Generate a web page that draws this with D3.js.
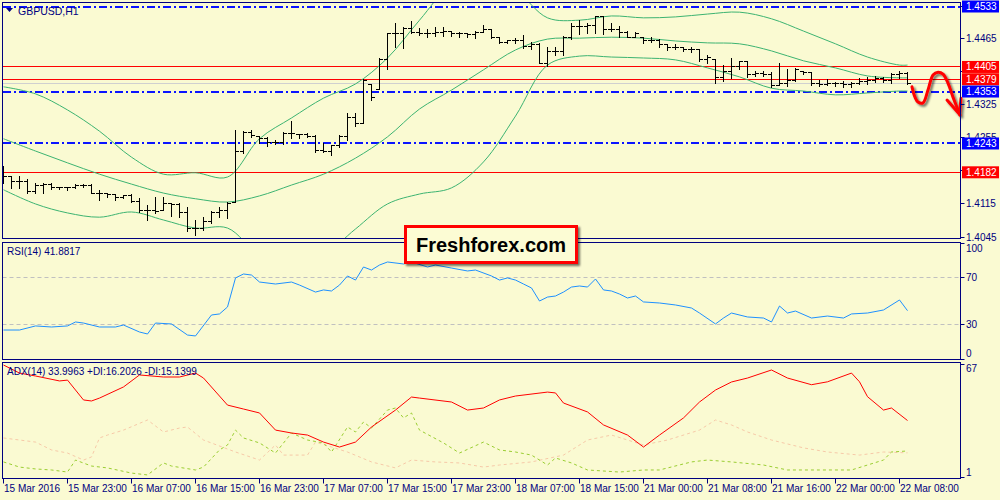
<!DOCTYPE html>
<html><head><meta charset="utf-8">
<script src="https://cdn.jsdelivr.net/npm/d3@7"></script>
<style>
html,body{margin:0;padding:0;background:#fafad2;}
svg{display:block;}
text{font-family:"Liberation Sans",Arial,sans-serif;}
</style></head><body>
<svg id="c" width="1000" height="500"></svg>
<script>
// ---------- DATA ----------
const symbolLabel = "GBPUSD,H1";
const rsiLabel = "RSI(14) 41.8817";
const adxLabel = "ADX(14) 33.9963 +DI:16.2026 -DI:15.1399";
const logoText = "Freshforex.com";

const openP = [1.4187,1.4174,1.4162,1.4162,1.4142,1.4155,1.4157,1.4149,1.4149,1.4149,
1.4155,1.4155,1.4138,1.4138,1.4134,1.4128,1.4132,1.4121,1.4102,1.4102,
1.4102,1.4117,1.4113,1.4096,1.4062,1.4062,1.4077,1.4096,1.4102,1.4119,
1.4225,1.4267,1.4257,1.4253,1.4246,1.4246,1.4265,1.4263,1.4261,1.4257,
1.4229,1.4227,1.4238,1.4257,1.4299,1.4286,1.4367,1.4358,1.4420,1.4475,
1.4475,1.4487,1.4479,1.4475,1.4475,1.4479,1.4481,1.4475,1.4475,1.4473,
1.4479,1.4485,1.4468,1.4456,1.4460,1.4460,1.4449,1.4452,1.4413,1.4437,
1.4437,1.4468,1.4490,1.4490,1.4492,1.4511,1.4485,1.4485,1.4479,1.4468,
1.4468,1.4462,1.4462,1.4452,1.4447,1.4447,1.4443,1.4443,1.4420,1.4420,
1.4382,1.4396,1.4405,1.4416,1.4390,1.4392,1.4390,1.4365,1.4371,1.4377,
1.4396,1.4394,1.4369,1.4367,1.4371,1.4369,1.4367,1.4371,1.4375,1.4377,
1.4380,1.4377,1.4388,1.4392];
const highP = [1.4195,1.4174,1.4174,1.4168,1.4159,1.4159,1.4159,1.4151,1.4151,1.4157,
1.4157,1.4157,1.4145,1.4138,1.4134,1.4134,1.4136,1.4128,1.4113,1.4130,
1.4130,1.4117,1.4117,1.4109,1.4081,1.4087,1.4100,1.4109,1.4119,1.4272,
1.4269,1.4272,1.4257,1.4257,1.4250,1.4267,1.4291,1.4263,1.4265,1.4261,
1.4244,1.4240,1.4261,1.4308,1.4308,1.4380,1.4367,1.4424,1.4477,1.4498,
1.4490,1.4502,1.4487,1.4485,1.4490,1.4490,1.4481,1.4479,1.4477,1.4481,
1.4494,1.4485,1.4468,1.4462,1.4466,1.4473,1.4458,1.4456,1.4447,1.4447,
1.4471,1.4498,1.4504,1.4498,1.4513,1.4511,1.4498,1.4492,1.4481,1.4479,
1.4468,1.4468,1.4464,1.4454,1.4454,1.4447,1.4447,1.4443,1.4430,1.4420,
1.4409,1.4424,1.4418,1.4416,1.4396,1.4396,1.4394,1.4413,1.4401,1.4403,
1.4396,1.4394,1.4377,1.4380,1.4373,1.4375,1.4373,1.4382,1.4384,1.4386,
1.4384,1.4392,1.4396,1.4394];
const lowP = [1.4159,1.4149,1.4149,1.4138,1.4138,1.4138,1.4147,1.4147,1.4145,1.4149,
1.4151,1.4138,1.4123,1.4130,1.4123,1.4128,1.4119,1.4098,1.4081,1.4096,
1.4102,1.4090,1.4087,1.4058,1.4049,1.4060,1.4075,1.4087,1.4085,1.4119,
1.4223,1.4257,1.4244,1.4238,1.4242,1.4242,1.4255,1.4255,1.4257,1.4225,
1.4225,1.4219,1.4236,1.4250,1.4280,1.4286,1.4335,1.4358,1.4401,1.4447,
1.4445,1.4477,1.4473,1.4468,1.4471,1.4471,1.4471,1.4468,1.4468,1.4466,
1.4479,1.4466,1.4456,1.4456,1.4456,1.4445,1.4443,1.4413,1.4407,1.4430,
1.4430,1.4464,1.4475,1.4477,1.4477,1.4475,1.4481,1.4468,1.4468,1.4468,
1.4456,1.4458,1.4447,1.4441,1.4443,1.4439,1.4437,1.4418,1.4413,1.4371,
1.4375,1.4382,1.4401,1.4384,1.4386,1.4386,1.4363,1.4367,1.4365,1.4375,
1.4390,1.4367,1.4365,1.4367,1.4365,1.4363,1.4363,1.4369,1.4369,1.4373,
1.4373,1.4371,1.4382,1.4369];
const closeP = [1.4174,1.4162,1.4162,1.4142,1.4155,1.4157,1.4149,1.4149,1.4149,1.4155,
1.4155,1.4138,1.4138,1.4134,1.4128,1.4132,1.4121,1.4102,1.4102,1.4100,
1.4117,1.4113,1.4096,1.4062,1.4062,1.4077,1.4096,1.4102,1.4117,1.4225,
1.4267,1.4259,1.4253,1.4246,1.4246,1.4265,1.4265,1.4261,1.4257,1.4229,
1.4227,1.4238,1.4257,1.4299,1.4286,1.4377,1.4341,1.4420,1.4475,1.4475,
1.4487,1.4479,1.4475,1.4475,1.4479,1.4481,1.4475,1.4475,1.4473,1.4479,
1.4485,1.4468,1.4456,1.4460,1.4460,1.4449,1.4452,1.4413,1.4437,1.4437,
1.4468,1.4490,1.4490,1.4492,1.4511,1.4485,1.4485,1.4479,1.4468,1.4475,
1.4462,1.4462,1.4452,1.4447,1.4447,1.4443,1.4443,1.4420,1.4426,1.4382,
1.4396,1.4405,1.4416,1.4390,1.4392,1.4390,1.4365,1.4371,1.4377,1.4399,
1.4394,1.4369,1.4367,1.4371,1.4369,1.4367,1.4371,1.4375,1.4377,1.4380,
1.4377,1.4388,1.4392,1.4369];

// Bollinger bands (sampled at bar indices)
const bandIdx = [0,4,8,12,16,20,24,28,32,36,40,44,48,52,56,60,64,68,72,76,80,84,88,92,96,100,104,108,112,113];
const bbUpper  = [1.4363,1.4348,1.4314,1.4269,1.4214,1.4178,1.4181,1.4172,1.4253,1.4297,1.4339,1.4369,1.4424,1.4504,1.4579,1.4600,1.4568,1.4509,1.4504,1.4513,1.4509,1.4511,1.4517,1.4521,1.4507,1.4481,1.4454,1.4426,1.4409,1.4409];
const bbMiddle = [1.4253,1.4227,1.4202,1.4178,1.4157,1.4138,1.4126,1.4119,1.4132,1.4155,1.4178,1.4212,1.4257,1.4316,1.4356,1.4399,1.4441,1.4464,1.4466,1.4468,1.4466,1.4460,1.4456,1.4454,1.4439,1.4418,1.4403,1.4386,1.4382,1.4382];
const bbLower  = [1.4145,1.4115,1.4096,1.4087,1.4098,1.4081,1.4064,1.4064,1.4007,1.3986,1.4007,1.4062,1.4115,1.4136,1.4149,1.4204,1.4301,1.4409,1.4428,1.4426,1.4424,1.4420,1.4403,1.4384,1.4360,1.4354,1.4346,1.4350,1.4354,1.4354];

// RSI(14)
const rsiIdx = [0,2,4,6,8,9,10,12,14,15,17,18,19,21,23,24,26,27,28,29,30,31,32,34,36,37,39,40,41,42,43,44,45,46,47,48,50,51,53,54,56,58,59,61,62,63,64,65,66,67,68,69,70,71,72,73,74,75,76,77,78,79,80,82,84,86,87,89,90,91,93,95,96,97,98,99,101,103,105,106,108,110,112,113];
const rsiVals = [25.3,25.3,28.8,27.9,28.8,32.2,31.3,27.9,27.9,29.6,23.6,21.9,31.3,30.5,21.0,20.2,38.2,39.1,45.1,70.0,73.4,72.5,66.5,64.8,66.5,63.9,57.9,59.7,58.8,63.9,71.7,68.2,79.4,76.8,81.1,83.7,82.0,83.7,79.4,81.1,78.5,76.0,76.8,71.7,68.2,70.0,68.2,64.8,61.4,50.2,53.6,54.5,57.9,62.2,63.1,62.2,69.1,59.7,58.8,56.2,52.8,54.5,49.4,48.5,46.8,44.2,39.9,30.5,35.6,39.9,36.5,35.6,32.2,45.9,39.9,41.6,35.6,37.3,35.6,39.1,39.9,42.5,51.1,41.9];

// ADX(14)
const adxIdx = [0,2,4,7,8,10,11,12,15,17,20,22,24,25,28,30,32,34,36,38,40,42,44,46,49,51,52,56,58,60,62,64,68,69,70,73,75,78,80,82,85,87,89,91,93,96,98,101,103,106,107,108,110,111,113];
const adxVals = [66.4,61.7,60.0,57.1,57.6,46.0,45.4,47.1,53.6,60.6,59.4,59.4,61.7,58.8,43.0,40.7,38.4,28.4,26.7,25.5,21.4,18.5,21.4,30.2,40.1,47.7,47.1,44.8,40.1,41.3,46.0,48.3,50.6,50.1,44.2,39.0,31.4,25.5,18.5,25.5,35.5,44.8,51.8,56.5,58.8,63.5,58.8,54.9,56.6,61.7,56.6,47.9,40.1,41.3,34.0];
const plusIdx = [0,2,4,6,8,9,11,13,16,18,20,21,24,25,27,28,29,30,32,34,36,38,40,41,43,44,45,46,48,49,50,51,52,55,57,60,62,64,66,68,69,71,73,77,80,82,86,88,91,95,98,102,106,108,110,111,113];
const plusDI = [9.8,6.8,5.7,5.1,3.9,10.9,7.4,6.3,3.3,2.2,9.2,7.4,5.1,6.8,16.8,19.7,28.4,23.8,20.9,15.0,26.7,22.6,20.9,15.6,30.2,27.3,33.1,29.6,40.1,41.3,35.5,38.4,28.4,20.9,15.0,21.4,16.8,15.6,13.8,8.0,12.1,9.2,5.1,3.9,5.1,5.1,9.8,10.9,9.8,8.0,5.1,5.1,5.1,8.0,10.9,15.6,16.2];
const minusIdx = [0,2,4,6,8,10,11,12,13,15,18,20,22,23,25,29,32,34,35,38,39,41,43,46,49,51,54,57,60,62,66,70,73,76,80,83,87,89,91,93,96,100,103,107,110,113];
const minusDI = [23.8,22.6,21.4,16.8,15.0,10.9,12.7,23.8,25.5,28.4,34.3,27.3,29.6,30.2,22.6,15.6,10.9,19.7,13.8,13.8,21.4,18.5,15.6,9.8,6.3,10.9,9.8,9.2,6.8,8.0,9.8,13.8,22.6,25.5,19.7,22.6,28.4,34.3,31.4,27.3,22.6,18.0,15.6,13.8,15.6,15.1];

const timeTickIdx = [0,8,16,24,32,40,48,56,64,72,80,88,96,104,112];
const timeLabels = ["15 Mar 2016","15 Mar 23:00","16 Mar 07:00","16 Mar 15:00","16 Mar 23:00","17 Mar 07:00","17 Mar 15:00","17 Mar 23:00","18 Mar 07:00","18 Mar 15:00","21 Mar 00:00","21 Mar 08:00","21 Mar 16:00","22 Mar 00:00","22 Mar 08:00"];
const priceTicks = [1.4533,1.4465,1.4395,1.4325,1.4255,1.4185,1.4115,1.4045];
const priceTickLabels = [1.4465,1.4325,1.4255,1.4115,1.4045]; // the others sit under level boxes
const blueLevels = [1.4533,1.4353,1.4243];
const redLevels = [1.4405,1.4379,1.4182];
const bidPrice = 1.4369;
const rsiTicks = [100,70,30,0];
const rsiLevels = [70,30];
const adxTicks = [67,1];
// hand-drawn forecast arrow (bar index, price)
const arrowIdx = [113.56,113.94,114.31,114.94,115.56,116.19,116.81,117.44,118.06,118.69,119.31,119.56];
const arrowPrice = [1.4363,1.4341,1.4331,1.4329,1.4356,1.4388,1.4394,1.4390,1.4371,1.4341,1.4314,1.4303];
const arrowHeadIdx = [117.94,119.5,119.69];
const arrowHeadPrice = [1.4335,1.4305,1.4339];

// ---------- LAYOUT ----------
const svg = d3.select("#c");
const navy = "#000080";
const L = 2.5, R = 960.5;
const main = {t:2.5,b:238.5}, rsiP = {t:242.5,b:359.5}, adxP = {t:362.5,b:478.5};

const x = d3.scaleLinear().domain([0,113]).range([3.5,907.5]);
const yP = d3.scaleLinear().domain([1.4182,1.4533]).range([172.3,6.5]);
const yR = d3.scaleLinear().domain([0,100]).range([359.5,243]);
const yA = d3.scaleLinear().domain([1,67]).range([477,364]);

svg.append("rect").attr("width",1000).attr("height",500).attr("fill","#fafad2");

const defs = svg.append("defs");
[["cm",main],["cr",rsiP],["ca",adxP]].forEach(([id,p])=>{
  defs.append("clipPath").attr("id",id).append("rect")
    .attr("x",L).attr("y",p.t).attr("width",R-L).attr("height",p.b-p.t);
});
const f = defs.append("filter").attr("id","sh").attr("x","-20%").attr("y","-20%").attr("width","150%").attr("height","150%");
f.append("feDropShadow").attr("dx",2).attr("dy",2).attr("stdDeviation",1.2).attr("flood-color","#000").attr("flood-opacity",0.55);

const crisp = v => Math.floor(v)+0.5;

// ---------- MAIN PANEL ----------
const gm = svg.append("g").attr("clip-path","url(#cm)");
gm.append("line").attr("x1",L).attr("x2",R).attr("y1",crisp(yP(bidPrice))).attr("y2",crisp(yP(bidPrice)))
  .attr("stroke","#d0d0d0").attr("stroke-width",1);
gm.append("g").selectAll("line").data(redLevels).join("line")
  .attr("x1",L).attr("x2",R).attr("y1",d=>crisp(yP(d))).attr("y2",d=>crisp(yP(d)))
  .attr("stroke","#ff0000").attr("stroke-width",1).attr("shape-rendering","crispEdges");
gm.append("g").selectAll("line").data(blueLevels).join("line")
  .attr("x1",L).attr("x2",R).attr("y1",d=>Math.round(yP(d))).attr("y2",d=>Math.round(yP(d)))
  .style("stroke","#0a14ff").attr("stroke-width",2).attr("stroke-dasharray","8,3,2,3")
  .attr("shape-rendering","crispEdges");

const bandLine = arr => d3.line().curve(d3.curveCatmullRom).x((d,i)=>x(bandIdx[i])).y(d=>yP(d))(arr);
[bbUpper,bbMiddle,bbLower].forEach(arr=>{
  gm.append("path").attr("d",bandLine(arr)).attr("fill","none").attr("stroke","#3cb371").attr("stroke-width",1);
});

gm.append("g").selectAll("path").data(d3.range(openP.length)).join("path")
  .attr("d",i=>{
    const xi=x(i);
    return `M${xi},${Math.round(yP(highP[i]))}V${Math.round(yP(lowP[i]))+1}`+
      `M${xi-3.5},${crisp(yP(openP[i]))}H${xi}M${xi},${crisp(yP(closeP[i]))}H${xi+3.5}`;
  })
  .attr("stroke","#000").attr("stroke-width",1).attr("fill","none").attr("shape-rendering","crispEdges");

// title
svg.append("path").attr("d","M6,8H13L9.5,12Z").attr("fill",navy);
svg.append("text").attr("x",18).attr("y",15).attr("font-size",10.5).attr("fill",navy).text(symbolLabel);

// forecast arrow
const ga = svg.append("g").attr("filter","url(#sh)");
ga.append("path").attr("d",d3.line().curve(d3.curveCatmullRom).x((d,i)=>x(arrowIdx[i])).y(d=>yP(d))(arrowPrice))
  .attr("fill","none").attr("stroke","#ff0000").attr("stroke-width",3).attr("stroke-linecap","round");
ga.append("path").attr("d",d3.line().x((d,i)=>x(arrowHeadIdx[i])).y(d=>yP(d))(arrowHeadPrice))
  .attr("fill","none").attr("stroke","#ff0000").attr("stroke-width",3).attr("stroke-linecap","round").attr("stroke-linejoin","round");

// ---------- RSI ----------
const gr = svg.append("g").attr("clip-path","url(#cr)");
gr.append("g").selectAll("line").data(rsiLevels).join("line")
  .attr("x1",L).attr("x2",R).attr("y1",d=>crisp(yR(d))).attr("y2",d=>crisp(yR(d)))
  .attr("stroke","#c0c0c0").attr("stroke-dasharray","4,3");
gr.append("path").attr("d",d3.line().x((d,i)=>x(rsiIdx[i])).y(d=>yR(d))(rsiVals))
  .attr("fill","none").attr("stroke","#1e90ff").attr("stroke-width",1);
svg.append("text").attr("x",7).attr("y",255).attr("font-size",10).attr("fill",navy).text(rsiLabel);

// ---------- ADX ----------
const gx = svg.append("g").attr("clip-path","url(#ca)");
gx.append("path").attr("d",d3.line().x((d,i)=>x(minusIdx[i])).y(d=>yA(d))(minusDI))
  .attr("fill","none").attr("stroke","#f6c9a8").attr("stroke-width",1).attr("stroke-dasharray","3,3");
gx.append("path").attr("d",d3.line().x((d,i)=>x(plusIdx[i])).y(d=>yA(d))(plusDI))
  .attr("fill","none").attr("stroke","#9acd32").attr("stroke-width",1).attr("stroke-dasharray","3,3");
gx.append("path").attr("d",d3.line().x((d,i)=>x(adxIdx[i])).y(d=>yA(d))(adxVals))
  .attr("fill","none").attr("stroke","#ff0000").attr("stroke-width",1);
svg.append("text").attr("x",7).attr("y",375).attr("font-size",10).attr("fill",navy).text(adxLabel);

// ---------- FRAMES ----------
[main,rsiP,adxP].forEach(p=>{
  svg.append("rect").attr("x",L).attr("y",p.t).attr("width",R-L).attr("height",p.b-p.t)
    .attr("fill","none").attr("stroke",navy).attr("stroke-width",1);
});

// ---------- RIGHT AXES ----------
const axTxt = 10;
const gpa = svg.append("g");
gpa.selectAll("line").data(priceTicks).join("line")
  .attr("x1",R).attr("x2",R+4).attr("y1",d=>crisp(yP(d))).attr("y2",d=>crisp(yP(d))).attr("stroke",navy);
gpa.selectAll("text").data(priceTickLabels).join("text")
  .attr("x",966).attr("y",d=>yP(d)+3.5).attr("font-size",axTxt).attr("fill",navy)
  .text(d=>d3.format(".4f")(d));

function boxLabel(p,col){
  const yy = yP(p);
  svg.append("rect").attr("x",962).attr("y",yy-6).attr("width",37).attr("height",12).attr("fill",col);
  svg.append("text").attr("x",966).attr("y",yy+3.5).attr("font-size",axTxt).attr("fill","#fff").text(d3.format(".4f")(p));
}
redLevels.forEach(p=>boxLabel(p,"#ff0000"));
blueLevels.forEach(p=>boxLabel(p,"#0000ff"));

function sideAxis(ticks,scale,panel){
  const g = svg.append("g");
  g.selectAll("line").data(ticks).join("line")
    .attr("x1",R).attr("x2",R+4).attr("y1",d=>crisp(scale(d))).attr("y2",d=>crisp(scale(d))).attr("stroke",navy);
  g.selectAll("text").data(ticks).join("text")
    .attr("x",966).attr("font-size",axTxt).attr("fill",navy)
    .attr("y",d=>Math.min(Math.max(scale(d),panel.t+6),panel.b-6)+3.5)
    .text(d=>d);
}
sideAxis(rsiTicks,yR,rsiP);
sideAxis(adxTicks,yA,adxP);

// ---------- TIME AXIS ----------
const gt = svg.append("g");
gt.selectAll("line").data(timeTickIdx).join("line")
  .attr("x1",d=>x(d)).attr("x2",d=>x(d)).attr("y1",adxP.b).attr("y2",adxP.b+5).attr("stroke",navy);
gt.selectAll("text").data(timeTickIdx).join("text")
  .attr("x",d=>x(d)+0.5).attr("y",492).attr("font-size",10).attr("fill",navy)
  .text((d,i)=>timeLabels[i]);

// ---------- LOGO ----------
const lg = svg.append("g");
lg.append("rect").attr("x",405.5).attr("y",226.5).attr("width",171).attr("height",36)
  .attr("fill","#fcfcd4").attr("stroke","#ff0000").attr("stroke-width",3).attr("filter","url(#sh)");
lg.append("text").attr("x",491).attr("y",252).attr("text-anchor","middle")
  .attr("font-size",20).attr("font-weight","bold").attr("fill","#000").text(logoText);
</script>
</body></html>
